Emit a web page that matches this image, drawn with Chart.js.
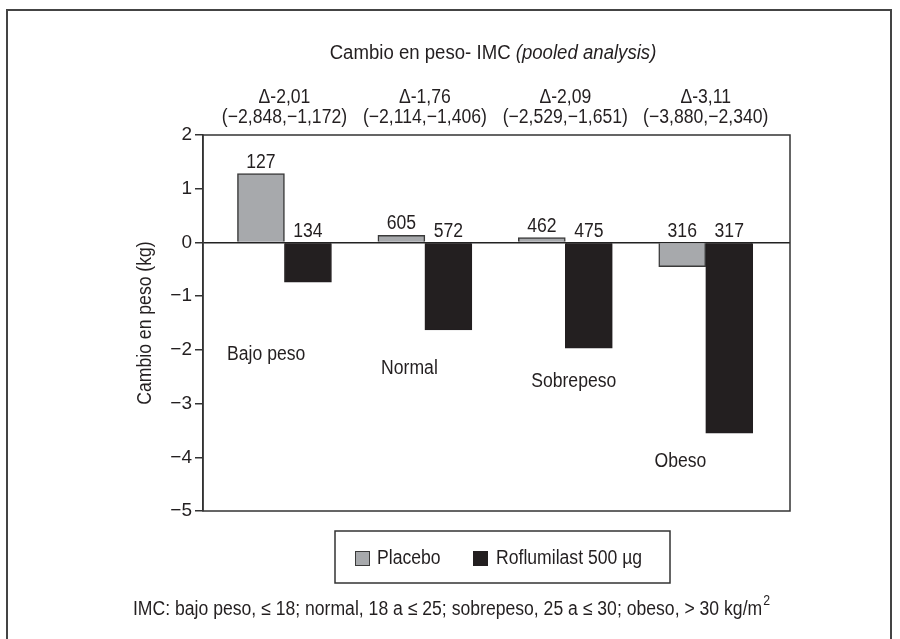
<!DOCTYPE html>
<html>
<head>
<meta charset="utf-8">
<script src="https://cdn.jsdelivr.net/npm/chart.js@4.4.0/dist/chart.umd.min.js"></script>
<style>
  html, body { margin: 0; padding: 0; background: #fff; }
  #wrap { width: 900px; height: 639px; position: relative; }
</style>
</head>
<body>
<div id="wrap"><canvas id="chart"></canvas></div>
<script>
const categories = ["Bajo peso", "Normal", "Sobrepeso", "Obeso"];
const placebo = [1.28, 0.13, 0.09, -0.45];
const roflumilast = [-0.74, -1.63, -1.97, -3.55];
const placeboN = [127, 605, 462, 316];
const roflumilastN = [134, 572, 475, 317];
const deltas = ["Δ-2,01", "Δ-1,76", "Δ-2,09", "Δ-3,11"];
const intervals = ["(−2,848,−1,172)", "(−2,114,−1,406)", "(−2,529,−1,651)", "(−3,880,−2,340)"];
const seriesNames = ["Placebo", "Roflumilast 500 µg"];

const FONT = "'Liberation Sans', Arial, sans-serif";
const INK = "#231f20";
const NARROW = 0.88; // squeeze to look like the condensed face of the original

// where the category names sit inside the plot (data units)
const catLabelPos = [[-0.13, -2.09], [0.89, -2.35], [2.06, -2.59], [2.82, -4.08]];

// condensed text: draw with a horizontal squeeze
function txt(ctx, s, x, y, font, align, base, k) {
  ctx.save();
  ctx.font = font;
  ctx.textAlign = align || "center";
  ctx.textBaseline = base || "middle";
  ctx.translate(x, y);
  ctx.scale(k || NARROW, 1);
  ctx.fillText(s, 0, 0);
  ctx.restore();
}
function txtWidth(ctx, s, font, k) {
  ctx.save();
  ctx.font = font;
  const w = ctx.measureText(s).width * (k || NARROW);
  ctx.restore();
  return w;
}

const extras = {
  id: "extras",
  afterDatasetsDraw(chart) {
    const { ctx, chartArea: a, scales: { x, y } } = chart;
    ctx.save();

    // outer frame
    ctx.strokeStyle = "#444";
    ctx.lineWidth = 2;
    ctx.strokeRect(7, 10, 884, 660);

    // plot box
    ctx.strokeStyle = "#333";
    ctx.lineWidth = 1.5;
    ctx.strokeRect(a.left, a.top, a.right - a.left, a.bottom - a.top);

    ctx.fillStyle = INK;
    const F = "20px " + FONT, FI = "italic 20px " + FONT;

    // title (mixed roman / italic)
    const t1 = "Cambio en peso- IMC ", t2 = "(pooled analysis)";
    const k = 0.93;
    const w1 = txtWidth(ctx, t1, F, k), w2 = txtWidth(ctx, t2, FI, k);
    const tx = 493 - (w1 + w2) / 2;
    txt(ctx, t1, tx, 53, F, "left", "middle", k);
    txt(ctx, t2, tx + w1, 53, FI, "left", "middle", k);

    // deltas and intervals over each group
    categories.forEach((c, i) => {
      const px = x.getPixelForValue(i);
      txt(ctx, deltas[i], px, 97, F);
      txt(ctx, intervals[i], px, 117, F);
    });

    // n above the bars
    [placeboN, roflumilastN].forEach((ns, d) => {
      chart.getDatasetMeta(d).data.forEach((bar, i) => {
        const top = Math.min(bar.y, bar.base);
        txt(ctx, String(ns[i]), bar.x, top - 6, F, "center", "alphabetic");
      });
    });

    // category names
    categories.forEach((c, i) => {
      txt(ctx, c, x.getPixelForValue(catLabelPos[i][0]), y.getPixelForValue(catLabelPos[i][1]), F);
    });

    // y axis title
    ctx.save();
    ctx.translate(145, (a.top + a.bottom) / 2);
    ctx.rotate(-Math.PI / 2);
    txt(ctx, "Cambio en peso (kg)", 0, 0, F);
    ctx.restore();

    // legend box
    ctx.strokeStyle = "#333";
    ctx.lineWidth = 1.5;
    ctx.strokeRect(335, 531, 335, 52);
    const ds = chart.data.datasets;
    const items = [[355, 377], [473, 496]];
    items.forEach(([sx, lx], d) => {
      ctx.fillStyle = ds[d].backgroundColor;
      ctx.fillRect(sx, 551, 15, 15);
      ctx.strokeStyle = ds[d].borderColor;
      ctx.lineWidth = 1;
      ctx.strokeRect(sx + 0.5, 551.5, 14, 14);
      ctx.fillStyle = INK;
      txt(ctx, seriesNames[d], lx, 558, F, "left");
    });

    // footnote with superscript
    const f1 = "IMC: bajo peso, ≤ 18; normal, 18 a ≤ 25; sobrepeso, 25 a ≤ 30; obeso, > 30 kg/m";
    const FS = "14px " + FONT;
    const fw = txtWidth(ctx, f1, F), sw = txtWidth(ctx, "2", FS);
    const fx = 451 - (fw + sw) / 2;
    txt(ctx, f1, fx, 609, F, "left");
    txt(ctx, "2", fx + fw + 1, 601, FS, "left");

    ctx.restore();
  }
};

new Chart(document.getElementById("chart"), {
  type: "bar",
  data: {
    datasets: [
      {
        label: seriesNames[0],
        data: placebo.map((v, i) => ({ x: i, y: v })),
        backgroundColor: "#a7a9ac",
        borderColor: "#3a3a3a",
        borderWidth: 1.5
      },
      {
        label: seriesNames[1],
        data: roflumilast.map((v, i) => ({ x: i, y: v })),
        backgroundColor: "#231f20",
        borderColor: "#231f20",
        borderWidth: 1
      }
    ]
  },
  options: {
    responsive: true,
    maintainAspectRatio: false,
    animation: false,
    barThickness: 47,
    layout: { padding: { left: 0, top: 135, right: 110, bottom: 128 } },
    plugins: { legend: { display: false }, tooltip: { enabled: false } },
    scales: {
      x: { type: "linear", min: -0.58, max: 3.6, offset: false, display: false },
      y: {
        min: -5,
        max: 2,
        afterFit: (s) => { s.width = 203; },
        border: { display: true, color: "#333", width: 1.5 },
        grid: {
          drawOnChartArea: true,
          color: (c) => (c.tick && c.tick.value === 0 ? "#222" : "rgba(0,0,0,0)"),
          lineWidth: 1.5,
          tickColor: "#333",
          tickLength: 8
        },
        ticks: {
          stepSize: 1,
          padding: 3,
          color: INK,
          font: { family: FONT, size: 19 },
          callback: (v) => (v < 0 ? "−" + Math.abs(v) : String(v))
        }
      }
    }
  },
  plugins: [extras]
});
</script>
</body>
</html>
